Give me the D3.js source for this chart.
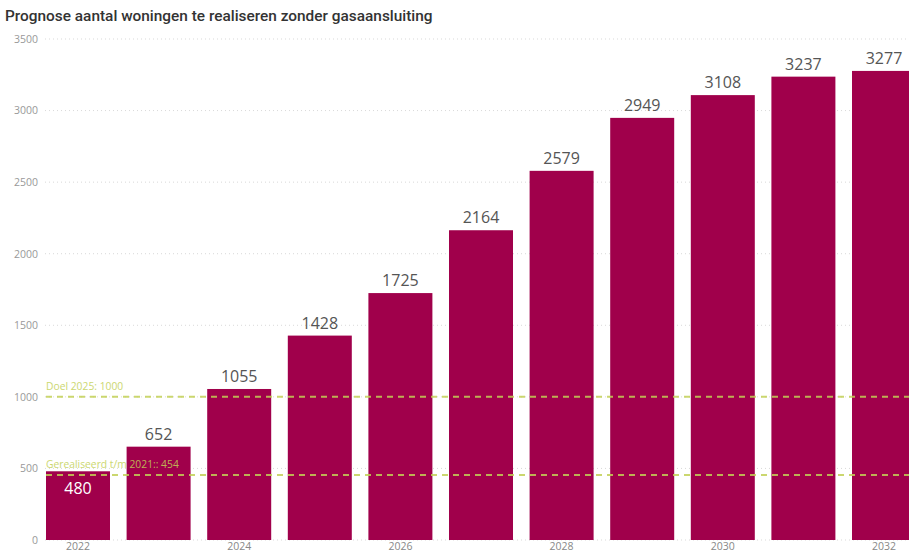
<!DOCTYPE html>
<html>
<head>
<meta charset="utf-8">
<script src="https://cdn.jsdelivr.net/npm/d3@7"></script>
<style>
  html, body { margin: 0; padding: 0; background: #fff; overflow: hidden; }
  svg { display: block; }
</style>
</head>
<body>
<svg id="chart" width="909" height="555"></svg>
<script>
const years = ["2022","2023","2024","2025","2026","2027","2028","2029","2030","2031","2032"];
const values = [480, 652, 1055, 1428, 1725, 2164, 2579, 2949, 3108, 3237, 3277];
const yTicks = [0, 500, 1000, 1500, 2000, 2500, 3000, 3500];
const xTickLabels = ["2022","2024","2026","2028","2030","2032"];
const refValues = [1000, 454];
const refLabels = ["Doel 2025: 1000", "Gerealiseerd t/m 2021:: 454"];
const title = "Prognose aantal woningen te realiseren zonder gasaansluiting";

const svg = d3.select("#chart");
const barColor = "#a0004b";
const refColor = "#c3d156";

const x = d3.scaleBand().domain(years).range([37.7, 924.3]).paddingInner(0.206).paddingOuter(0.103);
const y = d3.scaleLinear().domain([0, 3500]).range([540, 39]);

// title
svg.append("text")
  .attr("x", 5).attr("y", 21)
  .attr("font-family", "Roboto, 'DejaVu Sans', sans-serif")
  .attr("font-size", 15.4)
  .attr("font-weight", 500)
  .attr("fill", "#333")
  .text(title);

// gridlines
svg.append("g").selectAll("line").data(yTicks).join("line")
  .attr("x1", 45).attr("x2", 909)
  .attr("y1", d => y(d)).attr("y2", d => y(d))
  .attr("stroke", "#d9d9d9").attr("stroke-width", 1)
  .attr("stroke-dasharray", "1,3");

// y axis
const yAxis = d3.axisLeft(y).tickValues(yTicks).tickSize(0).tickPadding(0).tickFormat(d3.format("d"));
const gy = svg.append("g").attr("transform", "translate(38,0)").call(yAxis);
gy.select(".domain").remove();
gy.selectAll("text").attr("fill", "#999").attr("font-size", 10.5)
  .attr("font-family", "'Open Sans', 'DejaVu Sans', sans-serif");

// x axis
const xAxis = d3.axisBottom(x).tickValues(xTickLabels).tickSize(0).tickPadding(0);
const gx = svg.append("g").attr("transform", "translate(0,543)").call(xAxis);
gx.select(".domain").remove();
gx.selectAll("text").attr("fill", "#888").attr("font-size", 10.5)
  .attr("font-family", "'Open Sans', 'DejaVu Sans', sans-serif");

// bars
const data = years.map((yr, i) => ({ year: yr, value: values[i] }));
svg.append("g").selectAll("rect").data(data).join("rect")
  .attr("x", d => x(d.year))
  .attr("y", d => y(d.value))
  .attr("width", x.bandwidth())
  .attr("height", d => y(0) - y(d.value))
  .attr("fill", barColor);

// data labels
svg.append("g").selectAll("text").data(data).join("text")
  .attr("x", d => x(d.year) + x.bandwidth() / 2)
  .attr("y", d => d.value < 500 ? y(d.value) + 23 : y(d.value) - 7)
  .attr("text-anchor", "middle")
  .attr("font-family", "'Open Sans', 'Noto Sans', sans-serif")
  .attr("font-size", 16)
  .attr("fill", d => d.value < 500 ? "#fff" : "#555")
  .text(d => d.value);

// reference lines
const refs = refValues.map((v, i) => ({ value: v, label: refLabels[i] }));
const rg = svg.append("g").attr("opacity", 0.85);
rg.selectAll("line").data(refs).join("line")
  .attr("x1", 46).attr("x2", 909)
  .attr("y1", d => y(d.value)).attr("y2", d => y(d.value))
  .attr("stroke", refColor).attr("stroke-width", 2)
  .attr("stroke-dasharray", "6,5");
rg.selectAll("text").data(refs).join("text")
  .attr("x", 46)
  .attr("y", d => y(d.value) - 7)
  .attr("font-family", "'Open Sans', 'DejaVu Sans', sans-serif")
  .attr("font-size", 10.3)
  .attr("fill", refColor)
  .text(d => d.label);
</script>
</body>
</html>
